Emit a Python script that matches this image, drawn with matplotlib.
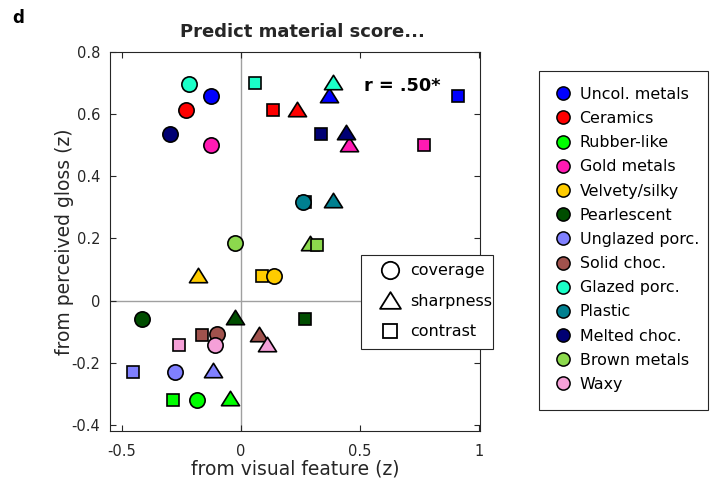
import matplotlib
matplotlib.use("Agg")
import matplotlib.pyplot as plt
from matplotlib.lines import Line2D
from matplotlib.path import Path
from matplotlib.patches import Rectangle

plt.rcParams['font.family'] = ['DejaVu Sans']

materials = ['Uncol. metals', 'Ceramics', 'Rubber-like', 'Gold metals', 'Velvety/silky',
             'Pearlescent', 'Unglazed porc.', 'Solid choc.', 'Glazed porc.', 'Plastic',
             'Melted choc.', 'Brown metals', 'Waxy']
colors = ['#0000ff', '#ff0000', '#00ff00', '#ff1ab3', '#ffcc00',
          '#004d00', '#8080ff', '#a0524d', '#1affc8', '#008090',
          '#000073', '#8cd94d', '#f5a0d8']

# x = from visual feature, y = from perceived gloss
coverage_x = [-0.127, -0.230, -0.183, -0.126, 0.141, -0.417, -0.275, -0.100, -0.216, 0.260, -0.299, -0.025, -0.107]
coverage_y = [0.658, 0.612, -0.320, 0.502, 0.079, -0.060, -0.230, -0.107, 0.697, 0.317, 0.536, 0.186, -0.144]
sharpness_x = [0.369, 0.235, -0.044, 0.454, -0.180, -0.025, -0.117, 0.077, 0.386, 0.388, 0.441, 0.292, 0.111]
sharpness_y = [0.661, 0.618, -0.315, 0.503, 0.082, -0.053, -0.224, -0.107, 0.705, 0.322, 0.541, 0.184, -0.140]
contrast_x = [0.912, 0.137, -0.286, 0.768, 0.088, 0.271, -0.455, -0.164, 0.059, 0.268, 0.335, 0.320, -0.262]
contrast_y = [0.658, 0.612, -0.320, 0.500, 0.079, -0.060, -0.230, -0.110, 0.700, 0.317, 0.536, 0.180, -0.142]

features = ['coverage', 'sharpness', 'contrast']
r_text = 'r = .50*'

# wide, flat triangle like the matlab '^'
tri = Path([(-1, -0.8), (1, -0.8), (0, 0.8), (-1, -0.8)], closed=True)
W, H = 711, 483
dark = '#262626'

fig = plt.figure(figsize=(W / 100, H / 100), dpi=100)
ax = fig.add_axes([110 / W, 52 / H, 370 / W, 379 / H])

ax.axhline(0, color='#a0a0a0', lw=1, zorder=1)
ax.axvline(0, color='#a0a0a0', lw=1, zorder=1)

edge = dict(markeredgecolor='black', markeredgewidth=1.2, linestyle='none')
for i in range(len(materials)):
    ax.plot(sharpness_x[i], sharpness_y[i], marker=tri, ms=13, color=colors[i], zorder=2, **edge)
    ax.plot(contrast_x[i], contrast_y[i], marker='s', ms=9.2, color=colors[i], zorder=3, **edge)
    ax.plot(coverage_x[i], coverage_y[i], marker='o', ms=11, color=colors[i], zorder=4, **edge)

ax.set_xlim(-0.55, 1.005)
ax.set_ylim(-0.42, 0.8)
ax.set_xticks([-0.5, 0, 0.5, 1])
ax.set_xticklabels(['-0.5', '0', '0.5', '1'])
ax.set_yticks([-0.4, -0.2, 0, 0.2, 0.4, 0.6, 0.8])
ax.set_yticklabels(['-0.4', '-0.2', '0', '0.2', '0.4', '0.6', '0.8'])
ax.tick_params(direction='in', top=True, right=True, length=4, labelsize=10.5,
               colors=dark, width=0.8)
ax.tick_params(axis='x', pad=9)
ax.tick_params(axis='y', pad=7)
for s in ax.spines.values():
    s.set_color(dark)
    s.set_linewidth(0.8)

ax.set_xlabel('from visual feature (z)', fontsize=13.5, color=dark)
ax.set_ylabel('from perceived gloss (z)', fontsize=13.5, color=dark)
ax.xaxis.set_label_coords(0.5, -0.076)
ax.yaxis.set_label_coords(-0.097, 0.5)
ax.set_title('Predict material score...', fontsize=13, fontweight='bold',
             color=dark, pad=11, x=0.519)
ax.text(0.516, 0.69, r_text, fontsize=12.8, fontweight='bold', va='center', ha='left')
fig.text(12 / W, 1 - 18 / H, 'd', fontsize=12, fontweight='bold', va='center')

# legend boxes drawn by hand (matlab-like padding)
for x0, y0, x1, y1 in [(361, 255, 493, 349), (539, 71, 708, 410)]:
    fig.add_artist(Rectangle((x0 / W, 1 - y1 / H), (x1 - x0) / W, (y1 - y0) / H,
                             transform=fig.transFigure, facecolor='white',
                             edgecolor=dark, lw=0.8, zorder=1))

# shape legend
shape_handles = [Line2D([], [], marker=m, ms=ms, markerfacecolor='white',
                        markeredgecolor='black', markeredgewidth=1.3, linestyle='none')
                 for m, ms in zip(['o', tri, 's'], [12.5, 15, 9.5])]
fig.legend(shape_handles, features, loc='upper left',
           bbox_to_anchor=(361 / W, 1 - 255 / H),
           fontsize=11.5, frameon=False, handletextpad=0, labelspacing=0.97,
           borderpad=0.52, handlelength=2.55, borderaxespad=0)

# material legend
mat_handles = [Line2D([], [], marker='o', ms=9.5, markerfacecolor=c,
                      markeredgecolor='black', markeredgewidth=1.1, linestyle='none')
               for c in colors]
fig.legend(mat_handles, materials, loc='upper left',
           bbox_to_anchor=(539 / W, 1 - 71 / H),
           fontsize=11.4, frameon=False, handletextpad=0.56, labelspacing=0.58,
           borderpad=1.0, handlelength=1.0, borderaxespad=0)

fig.savefig('out.png', dpi=100)
